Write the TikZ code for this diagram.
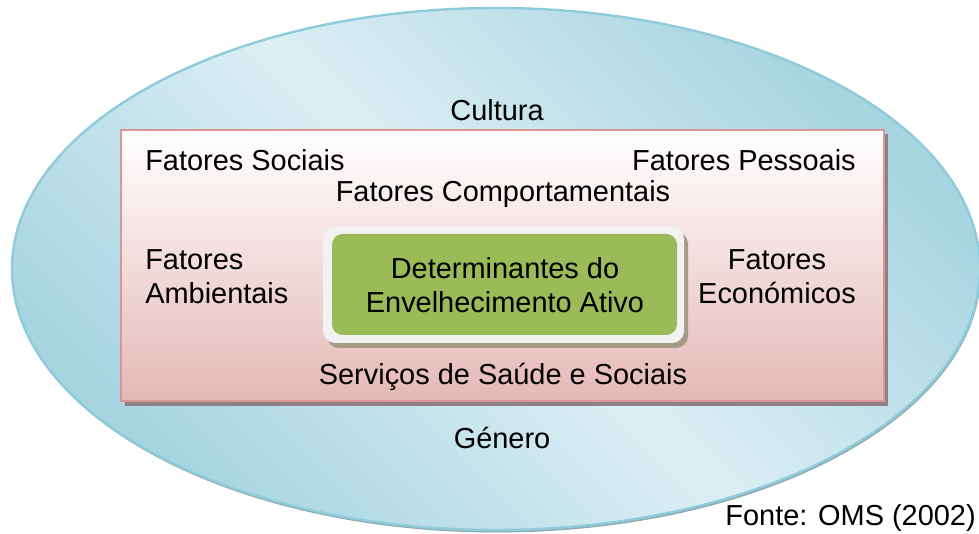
\documentclass[tikz,border=0pt]{standalone}
\usepackage{fontspec}
\setmainfont{Liberation Sans}
\definecolor{ellDark}{HTML}{A6D4E1}
\definecolor{ellLight}{HTML}{DCEFF4}
\definecolor{ellLine}{HTML}{8ECBDB}
\definecolor{ellShadow}{HTML}{8FA9B0}
\definecolor{recLine}{HTML}{D99694}
\definecolor{recBottom}{HTML}{E5B8B7}
\definecolor{recShadow}{HTML}{8E8087}
\definecolor{grn}{HTML}{9BBB59}
\definecolor{frameGray}{HTML}{F2F2F2}
\definecolor{frameShadow}{HTML}{A39B86}
\tikzset{
  lbl/.style={font=\fontsize{21.7}{25.5}\selectfont, text=black, inner sep=0pt, align=center},
}
\begin{document}
\begin{tikzpicture}[x=0.75pt,y=-0.75pt]
\useasboundingbox (0,0) rectangle (979,534);
% ellipse with shadow
\fill[ellShadow] (497,271.5) ellipse [x radius=484, y radius=261];
\shade[top color=ellDark, bottom color=ellDark, middle color=ellLight, shading angle=-45]
  (496,269) ellipse [x radius=484, y radius=261];
\draw[ellLine, line width=1.8pt] (496,269) ellipse [x radius=484, y radius=261];
% rectangle
\fill[recShadow] (125,134) rectangle (888,406);
\shade[top color=white, bottom color=recBottom] (121,130) rectangle (884,401);
\draw[recLine, line width=2.2pt] (121,130) rectangle (884,401);
% green box
\fill[frameShadow, rounded corners=9pt] (327,232) rectangle (688,348);
\fill[frameGray, rounded corners=9pt] (323,227) rectangle (684,343);
\fill[grn, rounded corners=8pt] (332,234) rectangle (677,335);
% texts
\node[lbl] (cultura) at (497,110) {Cultura};
\node[lbl, anchor=west] (sociais) at (145,160) {Fatores Sociais};
\node[lbl, anchor=east] (pessoais) at (856,160) {Fatores Pessoais};
\node[lbl] (comport) at (503,194) {Fatores Comportamentais};
\node[lbl, anchor=west, align=left] (ambient) at (145,277) {Fatores\\Ambientais};
\node[lbl] (econ) at (777,277) {Fatores\\Económicos};
\node[lbl] (determ) at (505,285) {Determinantes do\\Envelhecimento Ativo};
\node[lbl] (servicos) at (503,377) {Serviços de Saúde e Sociais};
\node[lbl] (genero) at (502,438) {Género};
\node[lbl, anchor=east] (fonte) at (976,518) {Fonte: OMS (2002)};
\end{tikzpicture}
\end{document}
